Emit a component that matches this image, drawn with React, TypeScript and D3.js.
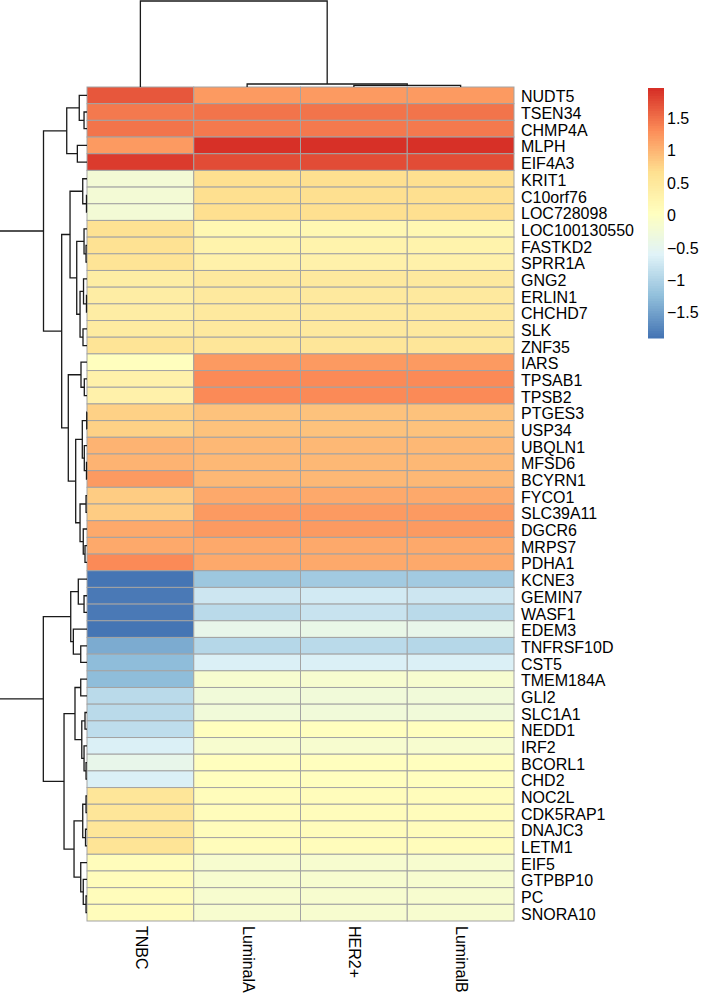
import React from 'react';
import * as d3 from 'd3';

const genes = [
  'NUDT5', 'TSEN34', 'CHMP4A', 'MLPH', 'EIF4A3', 'KRIT1', 'C10orf76', 'LOC728098',
  'LOC100130550', 'FASTKD2', 'SPRR1A', 'GNG2', 'ERLIN1', 'CHCHD7', 'SLK', 'ZNF35',
  'IARS', 'TPSAB1', 'TPSB2', 'PTGES3', 'USP34', 'UBQLN1', 'MFSD6', 'BCYRN1',
  'FYCO1', 'SLC39A11', 'DGCR6', 'MRPS7', 'PDHA1', 'KCNE3', 'GEMIN7', 'WASF1',
  'EDEM3', 'TNFRSF10D', 'CST5', 'TMEM184A', 'GLI2', 'SLC1A1', 'NEDD1', 'IRF2',
  'BCORL1', 'CHD2', 'NOC2L', 'CDK5RAP1', 'DNAJC3', 'LETM1', 'EIF5', 'GTPBP10',
  'PC', 'SNORA10',
];

const columns = ['TNBC', 'LuminalA', 'HER2+', 'LuminalB'];

const tnbc = [
  1.68, 1.45, 1.5, 1.22, 1.86, -0.2, -0.2, -0.2,
  0.65, 0.62, 0.6, 0.4, 0.4, 0.42, 0.44, 0.6,
  0.04, 0.34, 0.34, 0.8, 0.8, 1.03, 1.03, 1.2,
  0.84, 0.84, 1.12, 1.12, 1.32, -1.89, -1.84, -1.82,
  -1.86, -1.4, -1.27, -1.24, -0.89, -0.89, -0.85, -0.63,
  -0.44, -0.62, 0.58, 0.58, 0.58, 0.6, 0.1, 0.08,
  0.08, 0.08,
];

const luminalA = [
  1.2, 1.5, 1.45, 1.97, 1.76, 0.68, 0.68, 0.68,
  0.2, 0.28, 0.32, 0.47, 0.47, 0.5, 0.5, 0.55,
  1.2, 1.33, 1.33, 0.92, 0.92, 1.0, 1.0, 1.0,
  1.12, 1.2, 1.2, 1.1, 1.1, -1.12, -0.76, -0.9,
  -0.45, -0.95, -0.65, -0.15, -0.25, -0.25, 0.06, -0.15,
  0.07, 0.06, 0.08, 0.08, 0.08, 0.08, -0.12, -0.12,
  -0.12, -0.12,
];

const her2 = [
  1.2, 1.5, 1.45, 1.95, 1.74, 0.68, 0.68, 0.68,
  0.2, 0.28, 0.32, 0.47, 0.47, 0.5, 0.5, 0.55,
  1.2, 1.33, 1.33, 0.92, 0.92, 1.0, 1.0, 1.0,
  1.12, 1.2, 1.2, 1.1, 1.1, -1.1, -0.7, -0.8,
  -0.42, -0.9, -0.62, -0.15, -0.25, -0.25, 0.06, -0.15,
  0.07, 0.06, 0.08, 0.08, 0.08, 0.08, -0.12, -0.12,
  -0.12, -0.12,
];

const luminalB = [
  1.2, 1.5, 1.45, 1.96, 1.75, 0.68, 0.68, 0.68,
  0.2, 0.28, 0.32, 0.47, 0.47, 0.5, 0.5, 0.55,
  1.2, 1.33, 1.33, 0.92, 0.92, 1.0, 1.0, 1.0,
  1.12, 1.2, 1.2, 1.1, 1.1, -1.08, -0.74, -0.92,
  -0.45, -0.95, -0.65, -0.15, -0.25, -0.25, 0.06, -0.15,
  0.07, 0.06, 0.08, 0.08, 0.08, 0.08, -0.12, -0.12,
  -0.12, -0.12,
];

const legendTicks = [-1.5, -1, -0.5, 0, 0.5, 1, 1.5];

const paletteColors = ['#4575B4', '#91BFDB', '#E0F3F8', '#FFFFBF', '#FEE090', '#FC8D59', '#D73027'];

// dendrogram merges: [left, right, height]; numbers are leaf indices
const rowTree: any = [
  [
    [[0, [1, 2, 0.34], 0.89], [3, 4, 1.11], 2.33],
    [
      [
        [5, [6, 7, 0.06], 0.49],
        [[8, [9, 10, 0.11], 0.34], [[11, [12, 13, 0.06], 0.4], [14, 15, 0.46], 0.8], 1.18],
        1.95,
      ],
      [
        [16, [17, 18, 0.31], 0.69],
        [
          [[19, 20, 0.03], [21, [22, 23, 0.06], 0.31], 0.54],
          [[24, 25, 0.11], [26, [27, 28, 0.23], 0.43], 0.8],
          1.3,
        ],
        2.15,
      ],
      2.91,
    ],
    5.0,
  ],
  [
    [[29, [30, 31, 0.34], 1.0], [32, [33, 34, 0.72], 1.57], 1.87],
    [
      [[35, 36, 0.72], [[37, 38, 0.23], [39, [40, 41, 0.11], 0.34], 0.6], 1.38],
      [[[42, 43, 0.11], [44, 45, 0.17], 0.49], [46, [47, [48, 49, 0.11], 0.43], 0.72], 1.49],
      2.64,
    ],
    5.02,
  ],
  10.2,
];

const colTree: any = [0, [1, [2, 3, 0.02], 0.035], 1];

const FONT = '"Liberation Sans", Arial, Helvetica, sans-serif';

export default function App() {
  const W = 701;
  const H = 994;
  const left = 87;
  const right = 514;
  const top = 87;
  const bottom = 921;

  const x = d3.scaleBand<string>().domain(columns).range([left, right]);
  const y = d3.scaleBand<string>().domain(genes).range([top, bottom]);
  const series = [tnbc, luminalA, her2, luminalB];
  const all = series.flat();
  const [mn, mx] = d3.extent(all) as [number, number];

  const pal = d3
    .scaleLinear<string>()
    .domain(d3.range(7).map((i) => i / 6))
    .range(paletteColors)
    .interpolate(d3.interpolateRgb);
  const nBins = 100;
  const colorOf = (v: number) => {
    const b = Math.max(0, Math.min(nBins - 1, Math.floor(((v - mn) / (mx - mn)) * nBins)));
    return pal(b / (nBins - 1));
  };

  // row dendrogram
  const rowH = d3.scaleLinear().domain([0, 10]).range([left, 0]);
  const rowPaths: string[] = [];
  const rowLayout = (node: any): { p: number; h: number } => {
    if (typeof node === 'number') return { p: (y(genes[node]) as number) + y.bandwidth() / 2, h: 0 };
    const A = rowLayout(node[0]);
    const B = rowLayout(node[1]);
    const hp = rowH(node[2]);
    rowPaths.push(`M${rowH(A.h)},${A.p}H${hp}V${B.p}H${rowH(B.h)}`);
    return { p: (A.p + B.p) / 2, h: node[2] };
  };
  rowLayout(rowTree);

  // column dendrogram
  const colH = d3.scaleLinear().domain([0, 1]).range([top, 1]);
  const colPaths: string[] = [];
  const colLayout = (node: any): { p: number; h: number } => {
    if (typeof node === 'number') return { p: (x(columns[node]) as number) + x.bandwidth() / 2, h: 0 };
    const A = colLayout(node[0]);
    const B = colLayout(node[1]);
    const hp = colH(node[2]);
    colPaths.push(`M${A.p},${colH(A.h)}V${hp}H${B.p}V${colH(B.h)}`);
    return { p: (A.p + B.p) / 2, h: node[2] };
  };
  colLayout(colTree);

  // legend
  const legX = 648;
  const legW = 16;
  const legY = d3.scaleLinear().domain([mn, mx]).range([338, 88]);
  const legBins = d3.range(nBins);

  return (
    <svg
      width={W}
      height={H}
      style={{ position: 'absolute', left: 0, top: 0, background: '#fff', fontFamily: FONT }}
    >
      <rect x={0} y={0} width={W} height={H} fill="#fff" />
      {series.map((vals, ci) =>
        vals.map((v, ri) => (
          <rect
            key={`${ci}-${ri}`}
            x={x(columns[ci])}
            y={y(genes[ri])}
            width={x.bandwidth()}
            height={y.bandwidth()}
            fill={colorOf(v)}
            stroke="#A3A3A3"
            strokeWidth={1}
          />
        ))
      )}
      <g fill="none" stroke="#1a1a1a" strokeWidth={1.3}>
        {rowPaths.map((d, i) => (
          <path key={`r${i}`} d={d} />
        ))}
        {colPaths.map((d, i) => (
          <path key={`c${i}`} d={d} />
        ))}
      </g>
      <g fontSize={16} fill="#000">
        {genes.map((g) => (
          <text key={g} x={right + 7} y={(y(g) as number) + y.bandwidth() / 2 + 1.5} dy="0.35em">
            {g}
          </text>
        ))}
      </g>
      <g fontSize={16} fill="#000">
        {columns.map((c) => (
          <text
            key={c}
            transform={`translate(${(x(c) as number) + x.bandwidth() / 2 + 1},${bottom + 5}) rotate(90)`}
            dy="0.35em"
          >
            {c}
          </text>
        ))}
      </g>
      <g>
        {legBins.map((b) => {
          const v0 = mn + (b / nBins) * (mx - mn);
          const v1 = mn + ((b + 1) / nBins) * (mx - mn);
          return (
            <rect
              key={`l${b}`}
              x={legX}
              y={legY(v1)}
              width={legW}
              height={legY(v0) - legY(v1) + 0.5}
              fill={pal(b / (nBins - 1))}
            />
          );
        })}
      </g>
      <g fontSize={16} fill="#000">
        {legendTicks.map((t) => (
          <text key={`t${t}`} x={legX + legW + 3} y={legY(t)} dy="0.35em">
            {t < 0 ? `\u2212${Math.abs(t)}` : `${t}`}
          </text>
        ))}
      </g>
    </svg>
  );
}
